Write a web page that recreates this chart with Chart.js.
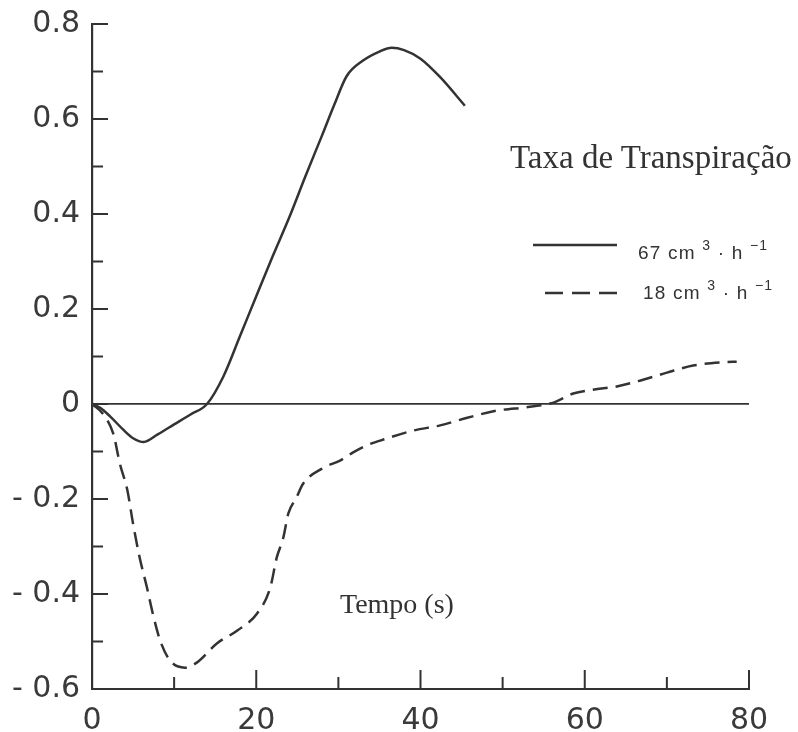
<!DOCTYPE html>
<html>
<head>
<meta charset="utf-8">
<title>Taxa de Transpiração</title>
<script src="https://cdn.jsdelivr.net/npm/chart.js@4/dist/chart.umd.min.js"></script>
<style>
  html, body { margin: 0; padding: 0; background: #fff; }
  #wrap { position: relative; width: 798px; height: 732px; }
  #chart { display: block; }
  .serif { position: absolute; font-family: "Liberation Serif", "Times New Roman", serif; color: #333; line-height: 1; white-space: nowrap; }
  .key { position: absolute; font-family: "Liberation Sans", Arial, sans-serif; font-size: 19px; color: #333; line-height: 1; white-space: nowrap; letter-spacing: 1.2px; }
  .key sup { font-size: 14px; vertical-align: 9px; line-height: 0; }
  svg.keyline { position: absolute; left: 0; top: 0; }
</style>
</head>
<body>
<div id="wrap">
  <canvas id="chart" width="798" height="732"></canvas>
  <div class="serif" style="left:510px; top:141px; font-size:33px;">Taxa de Transpiração</div>
  <div class="serif" style="left:340px; top:590px; font-size:28px;">Tempo (s)</div>
  <svg class="keyline" width="798" height="732">
    <line x1="533" y1="245" x2="617" y2="245" stroke="#333" stroke-width="2.5"/>
    <line x1="545" y1="293" x2="617" y2="293" stroke="#333" stroke-width="2.5" stroke-dasharray="18,9"/>
  </svg>
  <div class="key" style="left:638px; top:243px;">67 cm <sup>3</sup> · h <sup>−1</sup></div>
  <div class="key" style="left:643px; top:283px;">18 cm <sup>3</sup> · h <sup>−1</sup></div>
</div>
<script>
// series (time in s, value)
const highX = [0, 1, 2.2, 3.8, 5, 6.3, 8, 10, 12, 14, 16, 18, 20, 22, 24, 26, 28, 29.5, 31, 33, 35, 36.5, 38, 40, 42.4, 45.4];
const highY = [0, -0.008, -0.026, -0.054, -0.072, -0.08, -0.064, -0.043, -0.022, 0, 0.058, 0.142, 0.227, 0.311, 0.392, 0.48, 0.565, 0.63, 0.69, 0.723, 0.742, 0.75, 0.745, 0.727, 0.688, 0.628];

const lowX = [0, 1.3, 2.6, 3.4, 4.3, 5, 5.8, 6.7, 7.4, 8.3, 9.5, 11.3, 12.8, 15.2, 17.7, 20.1, 21.7, 22.5, 23.3, 23.9, 24.9, 25.7, 28, 30.2, 31.8, 33.6, 35.1, 39.1, 42.4, 45.7, 49.3, 53.3, 56.2, 58.6, 61, 63.9, 66.7, 70, 73.2, 77.1, 78.5];
const lowY = [0, -0.02, -0.063, -0.126, -0.181, -0.252, -0.323, -0.387, -0.441, -0.498, -0.54, -0.555, -0.544, -0.504, -0.477, -0.441, -0.387, -0.323, -0.281, -0.231, -0.197, -0.168, -0.136, -0.119, -0.102, -0.086, -0.077, -0.056, -0.045, -0.029, -0.014, -0.006, 0.003, 0.022, 0.03, 0.037, 0.049, 0.066, 0.081, 0.088, 0.089];

const xTickValues = [0, 20, 40, 60, 80];
const xTickLabels = ['0', '20', '40', '60', '80'];
const xMinorTicks = [10, 30, 50, 70];
const yTickValues = [-0.6, -0.4, -0.2, 0, 0.2, 0.4, 0.6, 0.8];
const yTickLabels = ['- 0.6', '- 0.4', '- 0.2', '0', '0.2', '0.4', '0.6', '0.8'];
const yMinorTicks = [-0.5, -0.3, -0.1, 0.1, 0.3, 0.5, 0.7];

const ink = '#333';

// ticks of the original point into the plot, so draw them ourselves
const insideTicks = {
    id: 'insideTicks',
    afterDatasetsDraw(chart) {
        const { ctx, chartArea, scales } = chart;
        const x = scales.x, y = scales.y;
        ctx.save();
        ctx.strokeStyle = ink;
        ctx.lineWidth = 2;
        ctx.beginPath();
        xTickValues.slice(1).forEach(v => {
            const px = x.getPixelForValue(v);
            ctx.moveTo(px, chartArea.bottom);
            ctx.lineTo(px, chartArea.bottom - 19);
        });
        xMinorTicks.forEach(v => {
            const px = x.getPixelForValue(v);
            ctx.moveTo(px, chartArea.bottom);
            ctx.lineTo(px, chartArea.bottom - 12);
        });
        yTickValues.slice(1).forEach(v => {
            const py = y.getPixelForValue(v);
            ctx.moveTo(chartArea.left, py);
            ctx.lineTo(chartArea.left + 16, py);
        });
        yMinorTicks.forEach(v => {
            const py = y.getPixelForValue(v);
            ctx.moveTo(chartArea.left, py);
            ctx.lineTo(chartArea.left + 11, py);
        });
        ctx.stroke();
        ctx.restore();
    }
};

const ctx = document.getElementById('chart').getContext('2d');
new Chart(ctx, {
    type: 'scatter',
    data: {
        datasets: [{
            label: '67 cm3·h-1',
            data: highX.map((v, i) => ({ x: v, y: highY[i] })),
            showLine: true,
            borderColor: ink,
            borderWidth: 2.5,
            pointRadius: 0,
            cubicInterpolationMode: 'monotone'
        }, {
            label: '18 cm3·h-1',
            data: lowX.map((v, i) => ({ x: v, y: lowY[i] })),
            showLine: true,
            borderColor: ink,
            borderWidth: 2.5,
            borderDash: [15, 8],
            pointRadius: 0,
            cubicInterpolationMode: 'monotone'
        }]
    },
    options: {
        responsive: false,
        animation: false,
        devicePixelRatio: 1,
        layout: { padding: { top: 24, right: 49, bottom: 0, left: 0 } },
        plugins: { legend: { display: false }, tooltip: { enabled: false } },
        scales: {
            x: {
                type: 'linear',
                min: 0,
                max: 80,
                afterFit: s => { s.height = 43; },
                afterBuildTicks: s => { s.ticks = xTickValues.map(v => ({ value: v })); },
                grid: { display: false },
                border: { display: true, color: ink, width: 2 },
                ticks: {
                    padding: 6,
                    color: '#3a3a3a',
                    font: { family: 'DejaVu Sans', size: 30 },
                    maxRotation: 0,
                    autoSkip: false,
                    callback: (v, i) => xTickLabels[i]
                }
            },
            y: {
                type: 'linear',
                min: -0.6,
                max: 0.8,
                afterFit: s => { s.width = 92; },
                afterBuildTicks: s => { s.ticks = yTickValues.map(v => ({ value: v })); },
                grid: {
                    drawTicks: false,
                    lineWidth: 1.8,
                    color: c => (c.tick && c.tick.value === 0) ? ink : 'rgba(0,0,0,0)'
                },
                border: { display: true, color: ink, width: 2.2 },
                ticks: {
                    padding: 12,
                    color: '#3a3a3a',
                    font: { family: 'DejaVu Sans', size: 30, lineHeight: 0.5 },
                    autoSkip: false,
                    callback: (v, i) => yTickLabels[i]
                }
            }
        }
    },
    plugins: [insideTicks]
});
</script>
</body>
</html>
